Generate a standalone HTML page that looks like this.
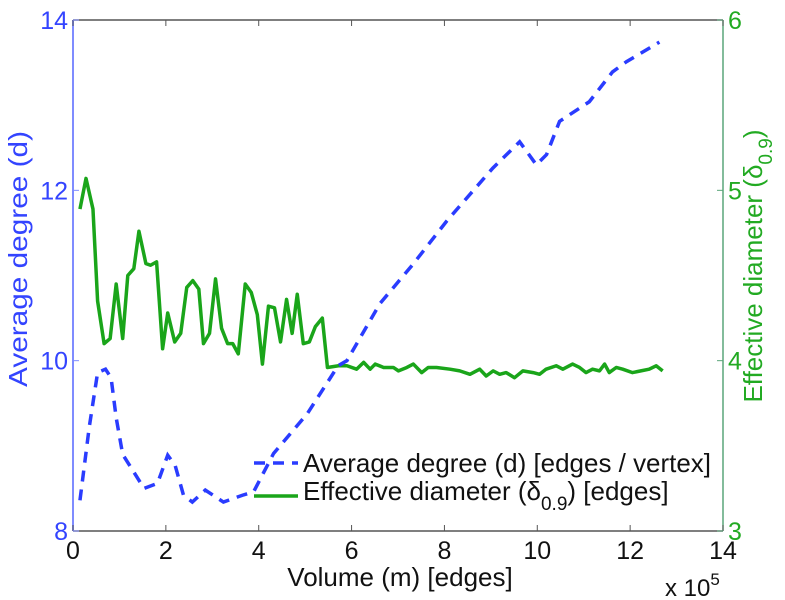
<!DOCTYPE html>
<html><head><meta charset="utf-8"><style>
html,body{margin:0;padding:0;background:#fff;}
svg{display:block;font-family:"Liberation Sans",sans-serif;}
</style></head><body>
<svg id="chart" width="785" height="600"></svg>
<script>
const xVals1 = [0.15,0.35,0.53,0.7,0.82,0.93,1.07,1.53,1.82,2.04,2.2,2.38,2.57,2.85,3.24,3.65,3.89,4.32,5.05,5.71,5.9,6.61,7.32,8.05,8.61,9.04,9.62,9.98,10.2,10.48,11.12,11.62,11.92,12.63];
const avgDegree = [8.36,9.22,9.86,9.9,9.8,9.33,8.9,8.5,8.56,8.89,8.77,8.42,8.34,8.48,8.34,8.42,8.46,8.91,9.38,9.94,10.0,10.67,11.13,11.64,11.99,12.26,12.57,12.3,12.42,12.81,13.04,13.39,13.51,13.74];
const xVals2 = [0.15,0.28,0.43,0.53,0.67,0.8,0.93,1.07,1.18,1.31,1.42,1.57,1.67,1.8,1.93,2.04,2.19,2.32,2.45,2.58,2.71,2.81,2.94,3.07,3.2,3.33,3.44,3.56,3.71,3.84,3.97,4.08,4.21,4.34,4.47,4.6,4.72,4.83,4.96,5.09,5.22,5.37,5.48,5.72,5.9,6.11,6.26,6.4,6.51,6.69,6.9,7.01,7.19,7.33,7.51,7.65,7.83,8.12,8.33,8.55,8.76,8.9,9.05,9.19,9.33,9.51,9.69,9.91,10.05,10.19,10.41,10.55,10.76,10.91,11.05,11.19,11.34,11.45,11.55,11.7,11.84,12.05,12.23,12.41,12.56,12.7];
const effDiameter = [4.89,5.07,4.89,4.35,4.1,4.13,4.45,4.13,4.5,4.54,4.76,4.57,4.56,4.58,4.07,4.28,4.11,4.16,4.43,4.47,4.42,4.1,4.16,4.48,4.19,4.1,4.1,4.04,4.45,4.4,4.27,3.98,4.32,4.31,4.11,4.36,4.16,4.39,4.1,4.11,4.2,4.25,3.96,3.97,3.97,3.95,3.99,3.95,3.98,3.96,3.96,3.94,3.96,3.98,3.93,3.96,3.96,3.95,3.94,3.92,3.95,3.91,3.94,3.92,3.93,3.90,3.94,3.93,3.92,3.95,3.97,3.95,3.98,3.96,3.93,3.95,3.94,3.98,3.93,3.96,3.95,3.93,3.94,3.95,3.97,3.94];
const xTicks = [0,2,4,6,8,10,12,14];
const leftTicks = [8,10,12,14];
const rightTicks = [3,4,5,6];

const L=73,R=723,T=20,B=531;
const xs = v => L + (v-0)/(14-0)*(R-L);
const yl = v => B - (v-8)/(14-8)*(B-T);
const yr = v => B - (v-3)/(6-3)*(B-T);
const svg = document.getElementById('chart');
const NS='http://www.w3.org/2000/svg';
function mk(tag, attrs, parent){const e=document.createElementNS(NS,tag);for(const k in attrs)e.setAttribute(k,attrs[k]);(parent||svg).appendChild(e);return e;}

let e;
e=mk('line',{x1:L,y1:T,x2:R,y2:T,stroke:'#555','stroke-width':1.5});


e=mk('line',{x1:L,y1:B,x2:R,y2:B,stroke:'#555','stroke-width':1.5});


e=mk('line',{x1:L,y1:T,x2:L,y2:B,stroke:'#7f8cff','stroke-width':2});


e=mk('line',{x1:R,y1:T,x2:R,y2:B,stroke:'#5aa57a','stroke-width':1.5});



xTicks.forEach(t=>{
  const x=xs(t);
  e=mk('line',{x1:x,y1:B,x2:x,y2:B-6,stroke:'#555','stroke-width':1});
  
  
  e=mk('line',{x1:x,y1:T,x2:x,y2:T+6,stroke:'#555','stroke-width':1});
  
  
  e=mk('text',{x:x,y:B+28,'text-anchor':'middle','font-size':25,fill:'#111'});
  e.textContent=t;
  
  
});
leftTicks.forEach(t=>{
  const y=yl(t);
  e=mk('line',{x1:L,y1:y,x2:L+6,y2:y,stroke:'#7f8cff','stroke-width':1});
  
  
  e=mk('text',{x:L-5,y:y+9,'text-anchor':'end','font-size':25,fill:'#3344ff'});
  e.textContent=t;
  
  
});
rightTicks.forEach(t=>{
  const y=yr(t);
  e=mk('line',{x1:R,y1:y,x2:R-6,y2:y,stroke:'#5aa57a','stroke-width':1});
  
  
  e=mk('text',{x:R+5,y:y+9,'text-anchor':'start','font-size':25,fill:'#22aa22'});
  e.textContent=t;
  
  
});

e=mk('polyline',{points:xVals2.map((x,i)=>xs(x)+','+yr(effDiameter[i])).join(' '),fill:'none',stroke:'#1aa51a','stroke-width':3.5,'stroke-linejoin':'round'});


e=mk('polyline',{points:xVals1.map((x,i)=>xs(x)+','+yl(avgDegree[i])).join(' '),fill:'none',stroke:'#2a3cff','stroke-width':3.5,'stroke-dasharray':'11 8'});



const lg=mk('g',{});


e=mk('line',{x1:254,y1:463,x2:298,y2:463,stroke:'#2a3cff','stroke-width':3.5,'stroke-dasharray':'11 8'},lg);


e=mk('text',{x:303,y:472,'font-size':26,fill:'#111',textLength:408,lengthAdjust:'spacingAndGlyphs'},lg);
e.textContent='Average degree (d) [edges / vertex]';


e=mk('line',{x1:254,y1:496,x2:298,y2:496,stroke:'#1aa51a','stroke-width':3.5},lg);


e=mk('text',{x:303,y:500,'font-size':26,fill:'#111'},lg);
e.innerHTML='Effective diameter (δ<tspan font-size="19" dy="10">0.9</tspan><tspan dy="-10">) [edges]</tspan>';



e=mk('text',{x:400,y:586,'text-anchor':'middle','font-size':26,fill:'#111'});
e.textContent='Volume (m) [edges]';


e=mk('text',{x:665,y:596,'font-size':24,fill:'#111'});
e.innerHTML='x 10<tspan font-size="17" dy="-11">5</tspan>';


e=mk('text',{x:0,y:0,'text-anchor':'middle','font-size':26,fill:'#3344ff',textLength:256,lengthAdjust:'spacingAndGlyphs',transform:'translate(27,259) rotate(-90)'});
e.textContent='Average degree (d)';


e=mk('text',{x:0,y:0,'text-anchor':'middle','font-size':26,fill:'#22aa22',transform:'translate(762,266) rotate(-90)'});
e.innerHTML='Effective diameter (δ<tspan font-size="19" dy="10">0.9</tspan><tspan dy="-10">)</tspan>';


</script>
</body></html>
